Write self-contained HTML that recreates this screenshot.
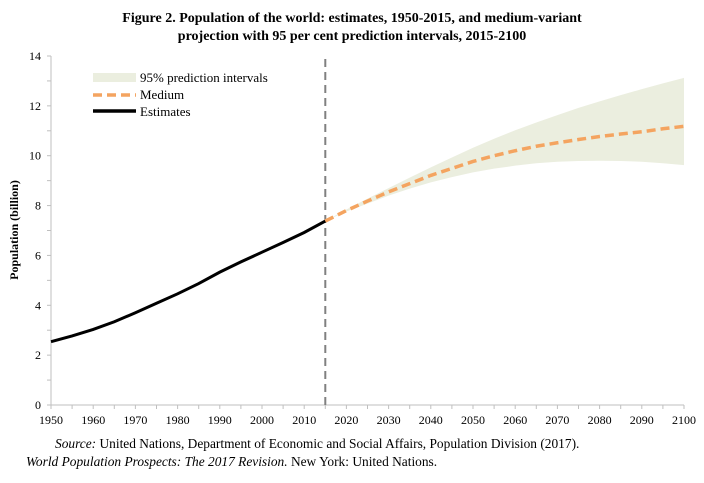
<!DOCTYPE html>
<html><head><meta charset="utf-8"><style>
body{margin:0;background:#fff;width:704px;height:478px;overflow:hidden;font-family:"Liberation Serif",serif}
</style></head><body>
<svg width="704" height="478" style="font-family:'Liberation Serif',serif">
<text x="352" y="22" text-anchor="middle" font-size="14" font-weight="bold">Figure 2.  Population of the world: estimates, 1950-2015, and medium-variant</text>
<text x="352" y="40" text-anchor="middle" font-size="14" font-weight="bold">projection with 95 per cent prediction intervals, 2015-2100</text>
<text transform="translate(18,230) rotate(-90)" text-anchor="middle" font-size="12" font-weight="bold">Population (billion)</text>
<g id="axes"></g>
<g id="marks"></g>
<g>
<rect x="93" y="73" width="43" height="9" fill="#ebeedf"/>
<text x="140" y="82" font-size="13">95% prediction intervals</text>
<line x1="93" y1="95" x2="136" y2="95" stroke="#f4a460" stroke-width="3.5" stroke-dasharray="9,5"/>
<text x="140" y="99" font-size="13">Medium</text>
<line x1="93" y1="111" x2="136" y2="111" stroke="#000" stroke-width="3.5"/>
<text x="140" y="116" font-size="13">Estimates</text>
</g>
<text x="55" y="448" font-size="13.4"><tspan font-style="italic">Source:</tspan> United Nations, Department of Economic and Social Affairs, Population Division (2017).</text>
<text x="26" y="466" font-size="13.4"><tspan font-style="italic">World Population Prospects: The 2017 Revision.</tspan> New York: United Nations.</text>
</svg>
<script>
const estYears=[1950,1955,1960,1965,1970,1975,1980,1985,1990,1995,2000,2005,2010,2015];
const estValues=[2.54,2.77,3.03,3.34,3.70,4.08,4.46,4.87,5.33,5.74,6.13,6.52,6.92,7.38];
const projYears=[2015,2020,2025,2030,2035,2040,2045,2050,2055,2060,2065,2070,2075,2080,2085,2090,2095,2100];
const medium=[7.38,7.80,8.18,8.55,8.88,9.21,9.49,9.77,10.0,10.2,10.38,10.52,10.65,10.77,10.87,10.96,11.08,11.18];
const lower=[7.38,7.76,8.08,8.40,8.68,8.93,9.14,9.33,9.48,9.60,9.70,9.76,9.79,9.80,9.79,9.76,9.70,9.62];
const upper=[7.38,7.84,8.28,8.70,9.12,9.53,9.93,10.32,10.68,11.02,11.33,11.63,11.92,12.18,12.43,12.67,12.90,13.12];
const xTicks=[1950,1960,1970,1980,1990,2000,2010,2020,2030,2040,2050,2060,2070,2080,2090,2100];
const yTicks=[0,2,4,6,8,10,12,14];
const X0=51,X1=684,Y0=405,Y1=56;
const x=v=>X0+(v-1950)/150*(X1-X0);
const y=v=>Y0-v/14*(Y0-Y1);
const NS="http://www.w3.org/2000/svg";
function mk(tag,attrs,parent){const e=document.createElementNS(NS,tag);for(const k in attrs)e.setAttribute(k,attrs[k]);parent.appendChild(e);return e;}
const ax=document.getElementById('axes'),mg=document.getElementById('marks');
let l=mk('line',{x1:X0,y1:Y0,x2:X1,y2:Y0,stroke:'#bfbfbf'},ax);


l=mk('line',{x1:X0,y1:Y0,x2:X0,y2:Y1,stroke:'#bfbfbf'},ax);


for(let yr=1950;yr<=2100;yr+=5){mk('line',{x1:x(yr),y1:Y0,x2:x(yr),y2:Y0+4,stroke:'#bfbfbf'},ax);}
for(let v=0;v<=14;v++){mk('line',{x1:X0-4,y1:y(v),x2:X0,y2:y(v),stroke:'#bfbfbf'},ax);}
xTicks.forEach(t=>{const e=mk('text',{x:x(t),y:Y0+19,'text-anchor':'middle','font-size':12},ax);e.textContent=t;

});
yTicks.forEach(t=>{const e=mk('text',{x:X0-10,y:y(t)+4,'text-anchor':'end','font-size':12},ax);e.textContent=t;

});
let d='M'+projYears.map((yr,i)=>x(yr)+','+y(upper[i])).join('L');
for(let i=projYears.length-1;i>=0;i--)d+='L'+x(projYears[i])+','+y(lower[i]);
let band=mk('path',{d:d+'Z',fill:'#ebeedf'},mg);


let vl=mk('line',{x1:x(2015),y1:Y0,x2:x(2015),y2:Y1,stroke:'#808080','stroke-width':2,'stroke-dasharray':'8,5'},mg);


let est=mk('polyline',{points:estYears.map((yr,i)=>x(yr)+','+y(estValues[i])).join(' '),fill:'none',stroke:'#000','stroke-width':3},mg);


let med=mk('polyline',{points:projYears.map((yr,i)=>x(yr)+','+y(medium[i])).join(' '),fill:'none',stroke:'#f4a460','stroke-width':3.5,'stroke-dasharray':'9,5'},mg);


</script>
</body></html>
